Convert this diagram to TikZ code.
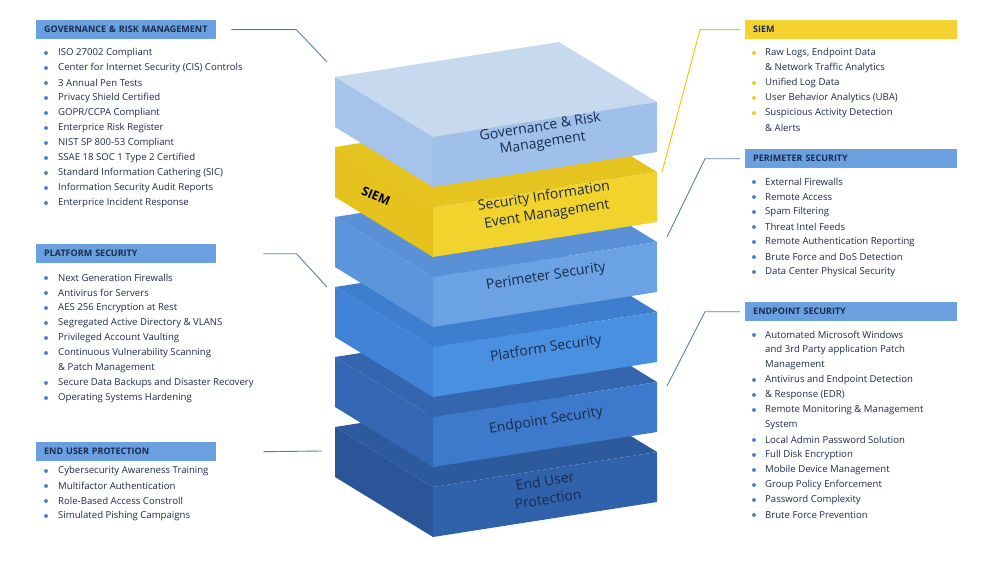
\documentclass[tikz,border=0pt]{standalone}
\usepackage{fontspec}
\setmainfont{Open Sans}
\usetikzlibrary{positioning}

\definecolor{navy}{HTML}{1B2B4B}
\definecolor{hdrblue}{HTML}{6A9FE0}
\definecolor{hdryellow}{HTML}{F3D232}
\definecolor{dotblue}{HTML}{4F86C9}
\definecolor{dotyellow}{HTML}{F2CC2A}
\definecolor{lineblue}{HTML}{5A7FB0}
\definecolor{lineyellow}{HTML}{EEC800}
% slab faces: top, left, right
\definecolor{euT}{HTML}{2D5A9C}\definecolor{euL}{HTML}{2A5598}\definecolor{euR}{HTML}{2F62AB}
\definecolor{epT}{HTML}{3466B0}\definecolor{epL}{HTML}{3468B4}\definecolor{epR}{HTML}{3D7ACB}
\definecolor{plT}{HTML}{3E7ECE}\definecolor{plL}{HTML}{3F82D6}\definecolor{plR}{HTML}{4A90E0}
\definecolor{peT}{HTML}{5A90D6}\definecolor{peL}{HTML}{5D95DC}\definecolor{peR}{HTML}{6AA2E3}
\definecolor{siT}{HTML}{E6C420}\definecolor{siL}{HTML}{E6C21E}\definecolor{siR}{HTML}{F2D22C}
\definecolor{grT}{HTML}{C6D9EE}\definecolor{grL}{HTML}{A6C4EA}\definecolor{grR}{HTML}{9EC0EA}

% one slab of the stack: #1 level, #2 top, #3 left, #4 right
\newcommand\drawslab[4]{%
  \pgfmathsetmacro\yo{77+70*#1}
  \fill[#2] (335,\yo) -- (433,\yo+60) -- (657,\yo+25) -- (559,\yo-35) -- cycle;
  \fill[#3] (335,\yo) -- (433,\yo+60) -- (433,\yo+110) -- (335,\yo+50) -- cycle;
  \fill[#4] (433,\yo+60) -- (657,\yo+25) -- (657,\yo+75) -- (433,\yo+110) -- cycle;
}

\begin{document}
\begin{tikzpicture}[x=1pt, y=-1pt,
    header/.style={anchor=north west, minimum width=180pt, minimum height=19pt, inner sep=0pt,
      text=navy, font=\fontsize{9}{10}\selectfont\bfseries, align=left, text width=180pt},
    item/.style={anchor=west, inner sep=0pt, text=navy, font=\fontsize{9.6}{10}\selectfont},
    dot/.style={fill=#1, circle, minimum size=4pt, inner sep=0pt},
    slabtext/.style={text=navy, font=\fontsize{14}{14}\selectfont, rotate=8.9, inner sep=0pt},
    link/.style={line width=0.9pt, draw=#1}]
  \useasboundingbox (0,0) rectangle (990,567);

  % the stack, drawn from the bottom up
  \drawslab{5}{euT}{euL}{euR}
  \drawslab{4}{epT}{epL}{epR}
  \drawslab{3}{plT}{plL}{plR}
  \drawslab{2}{peT}{peL}{peR}
  \drawslab{1}{siT}{siL}{siR}
  \drawslab{0}{grT}{grL}{grR}

  \node[slabtext] (grm) at (540,126) {Governance \& Risk};
  \node[slabtext] (grm-2) at (543,144) {Management};
  \node[slabtext] (siem) at (544,197) {Security Information};
  \node[slabtext] (siem-2) at (547,215) {Event Management};
  \node[slabtext, text=black, font=\fontsize{12.5}{12}\selectfont\bfseries, rotate=-31] (siem-side) at (376,196) {SIEM};
  \node[slabtext] (per) at (546,277) {Perimeter Security};
  \node[slabtext] (plat) at (546,349) {Platform Security};
  \node[slabtext] (endp) at (546,421) {Endpoint Security};
  \node[slabtext] (euser) at (545,481) {End User};
  \node[slabtext] (euser-2) at (548,499) {Protection};

  % points on the stack where the connectors end
  \coordinate (grm-in) at (327,62);
  \coordinate (plat-in) at (327,287);
  \coordinate (euser-in) at (322,451);
  \coordinate (siem-in) at (662,172);
  \coordinate (per-in) at (667,237);
  \coordinate (endp-in) at (667,386);

  % left panels
  \node[header, fill=hdrblue] (h-grm) at (36,20) {\hspace*{8pt}GOVERNANCE \& RISK MANAGEMENT};
  \foreach \b/\t [count=\i] in {1/ISO 27002 Compliant, 1/Center for Internet Security (CIS) Controls,
      1/3 Annual Pen Tests, 1/Privacy Shield Certified, 1/{GOPR/CCPA Compliant}, 1/Enterprice Risk Register,
      1/NIST SP 800-53 Compliant, 1/SSAE 18 SOC 1 Type 2 Certified, 1/Standard Information Cathering (SIC),
      1/Information Security Audit Reports, 1/Enterprice Incident Response} {
    \node[item] (grm-\i) at (58,{53+15*(\i-1)}) {\t};
    \ifnum\b=1 \node[dot=dotblue] at (46,{53+15*(\i-1)}) {}; \fi
  }

  \node[header, fill=hdrblue] (h-plat) at (36,244) {\hspace*{8pt}PLATFORM SECURITY};
  \foreach \b/\t [count=\i] in {1/Next Generation Firewalls, 1/Antivirus for Servers,
      1/AES 256 Encryption at Rest, 1/Segregated Active Directory \& VLANS, 1/Privileged Account Vaulting,
      1/Continuous Vulnerability Scanning, 0/\& Patch Management,
      1/Secure Data Backups and Disaster Recovery, 1/Operating Systems Hardening} {
    \node[item] (plat-\i) at (58,{278+15*(\i-1)}) {\t};
    \ifnum\b=1 \node[dot=dotblue] at (46,{278+15*(\i-1)}) {}; \fi
  }

  \node[header, fill=hdrblue] (h-euser) at (36,442) {\hspace*{8pt}END USER PROTECTION};
  \foreach \b/\t [count=\i] in {1/Cybersecurity Awareness Training, 1/Multifactor Authentication,
      1/Role-Based Access Constroll, 1/Simulated Pishing Campaigns} {
    \node[item] (euser-\i) at (58,{471+15*(\i-1)}) {\t};
    \ifnum\b=1 \node[dot=dotblue] at (46,{471+15*(\i-1)}) {}; \fi
  }

  % right panels
  \node[header, fill=hdryellow, minimum width=212pt, text width=212pt] (h-siem) at (745,20) {\hspace*{8pt}SIEM};
  \foreach \b/\t [count=\i] in {1/{Raw Logs, Endpoint Data}, 0/\& Network Traffic Analytics,
      1/Unified Log Data, 1/User Behavior Analytics (UBA), 1/Suspicious Activity Detection, 0/\& Alerts} {
    \node[item] (siem-\i) at (765,{53+15*(\i-1)}) {\t};
    \ifnum\b=1 \node[dot=dotyellow] at (754,{53+15*(\i-1)}) {}; \fi
  }

  \node[header, fill=hdrblue, minimum width=212pt, text width=212pt] (h-per) at (745,149) {\hspace*{8pt}PERIMETER SECURITY};
  \foreach \b/\t [count=\i] in {1/External Firewalls, 1/Remote Access, 1/Spam Filtering,
      1/Threat Intel Feeds, 1/Remote Authentication Reporting, 1/Brute Force and DoS Detection,
      1/Data Center Physical Security} {
    \node[item] (per-\i) at (765,{182+15*(\i-1)}) {\t};
    \ifnum\b=1 \node[dot=dotblue] at (754,{182+15*(\i-1)}) {}; \fi
  }

  \node[header, fill=hdrblue, minimum width=212pt, text width=212pt] (h-endp) at (745,302) {\hspace*{8pt}ENDPOINT SECURITY};
  \foreach \b/\t [count=\i] in {1/Automated Microsoft Windows, 0/and 3rd Party application Patch,
      0/Management, 1/Antivirus and Endpoint Detection, 1/\& Response (EDR),
      1/Remote Monitoring \& Management, 0/System, 1/Local Admin Password Solution,
      1/Full Disk Encryption, 1/Mobile Device Management, 1/Group Policy Enforcement,
      1/Password Complexity, 1/Brute Force Prevention} {
    \node[item] (endp-\i) at (765,{335+15*(\i-1)}) {\t};
    \ifnum\b=1 \node[dot=dotblue] at (754,{335+15*(\i-1)}) {}; \fi
  }

  % connectors
  \draw[link=lineblue] ([xshift=15pt]h-grm.east) -- ++(65,0) -- (grm-in);
  \draw[link=lineblue] ([xshift=47pt]h-plat.east) -- ++(33,0) -- (plat-in);
  \draw[link=lineblue] ([xshift=47pt]h-euser.east) -- (euser-in);
  \draw[link=lineyellow] ([xshift=-5pt]h-siem.west) -- ++(-40,0) -- (siem-in);
  \draw[link=lineblue] ([xshift=-5pt]h-per.west) -- ++(-35,0) -- (per-in);
  \draw[link=lineblue] ([xshift=-5pt]h-endp.west) -- ++(-35,0) -- (endp-in);
\end{tikzpicture}
\end{document}
